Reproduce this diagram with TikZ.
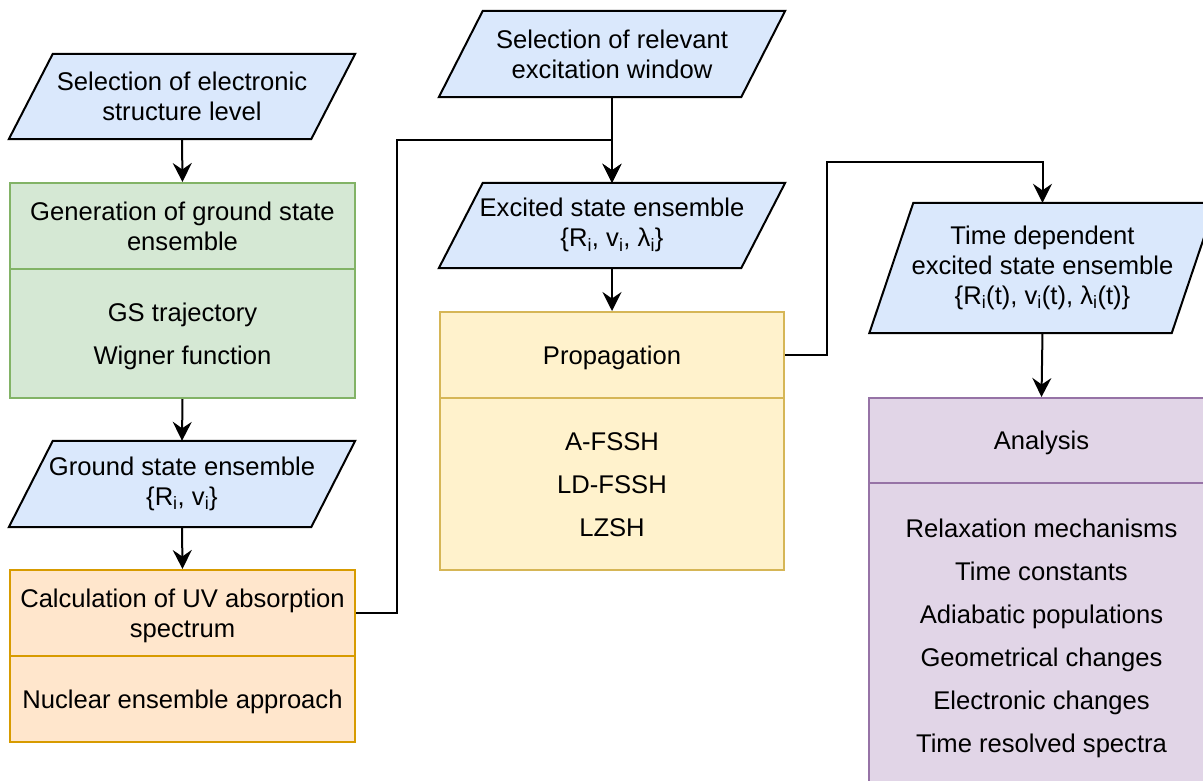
\documentclass[tikz,border=0pt]{standalone}
\usepackage{fontspec}
\setmainfont{Liberation Sans}
\usetikzlibrary{arrows.meta,backgrounds,calc}
\definecolor{blueF}{HTML}{DAE8FC}
\definecolor{greenF}{HTML}{D5E8D4}
\definecolor{greenD}{HTML}{82B366}
\definecolor{orangeF}{HTML}{FFE6CC}
\definecolor{orangeD}{HTML}{D79B00}
\definecolor{yellowF}{HTML}{FFF2CC}
\definecolor{yellowD}{HTML}{D6B656}
\definecolor{purpleF}{HTML}{E1D5E7}
\definecolor{purpleD}{HTML}{9673A6}
\newcommand{\tstrut}{\rule{0pt}{24pt}}
\newcommand{\bstrut}{\rule[-5.6pt]{0pt}{5.6pt}}
\newcommand{\bstrutsub}{\rule[-11.6pt]{0pt}{11.6pt}}
\newcommand{\paraback}[1]{%
  \begin{scope}[on background layer]
    \filldraw[fill=blueF, draw=black, line width=2pt, line join=miter]
      ([xshift=22pt]#1.north west) -- ([xshift=22pt]#1.north east)
      -- ([xshift=-22pt]#1.south east) -- ([xshift=-22pt]#1.south west) -- cycle;
  \end{scope}}
\begin{document}
\begin{tikzpicture}[x=1pt,y=-1pt,
  base/.style={inner sep=0pt, align=center, text=black,
    font=\fontsize{25.6}{29.8}\selectfont},
  listtext/.style={font=\fontsize{25.6}{43}\selectfont},
  box/.style={base, rectangle, draw, line width=2pt, minimum width=345pt},
  gbox/.style={box, fill=greenF, draw=greenD},
  obox/.style={box, fill=orangeF, draw=orangeD},
  ybox/.style={box, fill=yellowF, draw=yellowD},
  pbox/.style={box, fill=purpleF, draw=purpleD},
  para/.style={base, rectangle, minimum width=302pt},
  conn/.style={draw=black, line width=2pt},
  arr/.style={conn, -{Stealth[length=19pt,width=19pt,inset=6.5pt]}}]
\useasboundingbox (0,0) rectangle (1203,780);

% column 1
\node[para, minimum height=85pt] (sel1) at (182,96.5) {\tstrut Selection of electronic\\structure level\bstrut};
\paraback{sel1}
\node[gbox, minimum height=86pt] (genh) at (182.5,226) {\tstrut Generation of ground state\\ensemble\bstrut};
\node[gbox, listtext, minimum height=129pt] (genb) at (182.5,333.5) {\tstrut GS trajectory\\Wigner function\bstrut};
\node[para, minimum height=86pt] (gse) at (182,484) {\tstrut Ground state ensemble\\\{R\textsubscript{i}, v\textsubscript{i}\}\bstrutsub};
\paraback{gse}
\node[obox, minimum height=86pt] (calch) at (182.5,613) {\tstrut Calculation of UV absorption\\spectrum\bstrut};
\node[obox, minimum height=86pt] (calcb) at (182.5,699) {\tstrut Nuclear ensemble approach\bstrut};

% column 2
\node[para, minimum height=86pt] (sel2) at (612,54) {\tstrut Selection of relevant\\excitation window\bstrut};
\paraback{sel2}
\node[para, minimum height=85pt] (exc) at (612,225.5) {\tstrut Excited state ensemble\\\{R\textsubscript{i}, v\textsubscript{i}, λ\textsubscript{i}\}\bstrutsub};
\paraback{exc}
\node[ybox, minimum width=344pt, minimum height=86pt] (proph) at (612,355) {\tstrut Propagation\bstrut};
\node[ybox, listtext, minimum width=344pt, minimum height=172pt] (propb) at (612,484) {\tstrut A-FSSH\\LD-FSSH\\LZSH\bstrut};

% column 3
\node[para, minimum height=130pt] (td) at (1042.5,268) {\tstrut Time dependent\\excited state ensemble\\\{R\textsubscript{i}(t), v\textsubscript{i}(t), λ\textsubscript{i}(t)\}\bstrutsub};
\paraback{td}
\node[pbox, minimum height=85pt] (anah) at (1041.5,440.5) {\tstrut Analysis\bstrut};
\node[pbox, listtext, minimum height=305pt] (anab) at (1041.5,635.5) {\tstrut Relaxation mechanisms\\Time constants\\Adiabatic populations\\Geometrical changes\\Electronic changes\\Time resolved spectra\bstrut};

% connectors
\coordinate (bend1) at (397,140);
\coordinate (bend2) at (827,162);
\draw[arr] (sel1.south) -- (genh.north);
\draw[arr] (genb.south) -- (gse.north);
\draw[arr] (gse.south) -- (calch.north);
\draw[arr] (sel2.south) -- (exc.north);
\draw[arr] (calch.east) -| (bend1) -| (exc.north);
\draw[arr] (exc.south) -- (proph.north);
\draw[arr] (proph.east) -| (bend2) -| (td.north);
\draw[arr] (td.south) -- (anah.north);
\end{tikzpicture}
\end{document}
